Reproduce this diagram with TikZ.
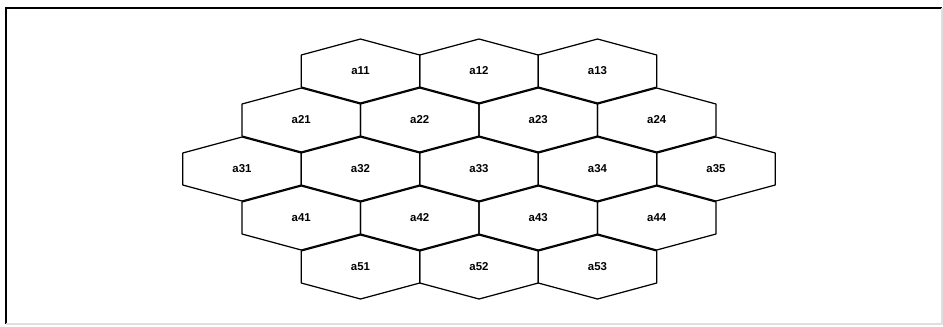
\documentclass[tikz,border=0pt]{standalone}
\usepackage{fontspec}
\setsansfont{Liberation Sans}
\usetikzlibrary{calc}

\begin{document}
\begin{tikzpicture}[
    x=0.02cm, y=-0.02cm,
    every node/.style={font=\sffamily\bfseries\fontsize{6.5}{7}\selectfont},
    cell/.style={draw=black, line width=0.7pt, line join=round}
]
\useasboundingbox (0,0) rectangle (943,326);
% frame
\draw[line width=1.4pt] (6,324) -- (6,8) -- (942,8);
\draw[gray!25, line width=0.6pt] (6,324) -- (942,324) -- (942,8);

% hexagon cells, row/number of cells/centre of first cell
\foreach \row/\ncells/\xstart in {1/3/360.5, 2/4/301.25, 3/5/242, 4/4/301.25, 5/3/360.5} {
    \foreach \col in {1,...,\ncells} {
        \pgfmathsetmacro{\cx}{\xstart+(\col-1)*118.5}
        \pgfmathsetmacro{\cy}{71+(\row-1)*49}
        \draw[cell] (\cx,\cy-32) -- ++(59.25,16) -- ++(0,32) -- ++(-59.25,16)
            -- ++(-59.25,-16) -- ++(0,-32) -- cycle;
        \node (a\row\col) at (\cx,\cy) {a\row\col};
    }
}
\end{tikzpicture}
\end{document}
